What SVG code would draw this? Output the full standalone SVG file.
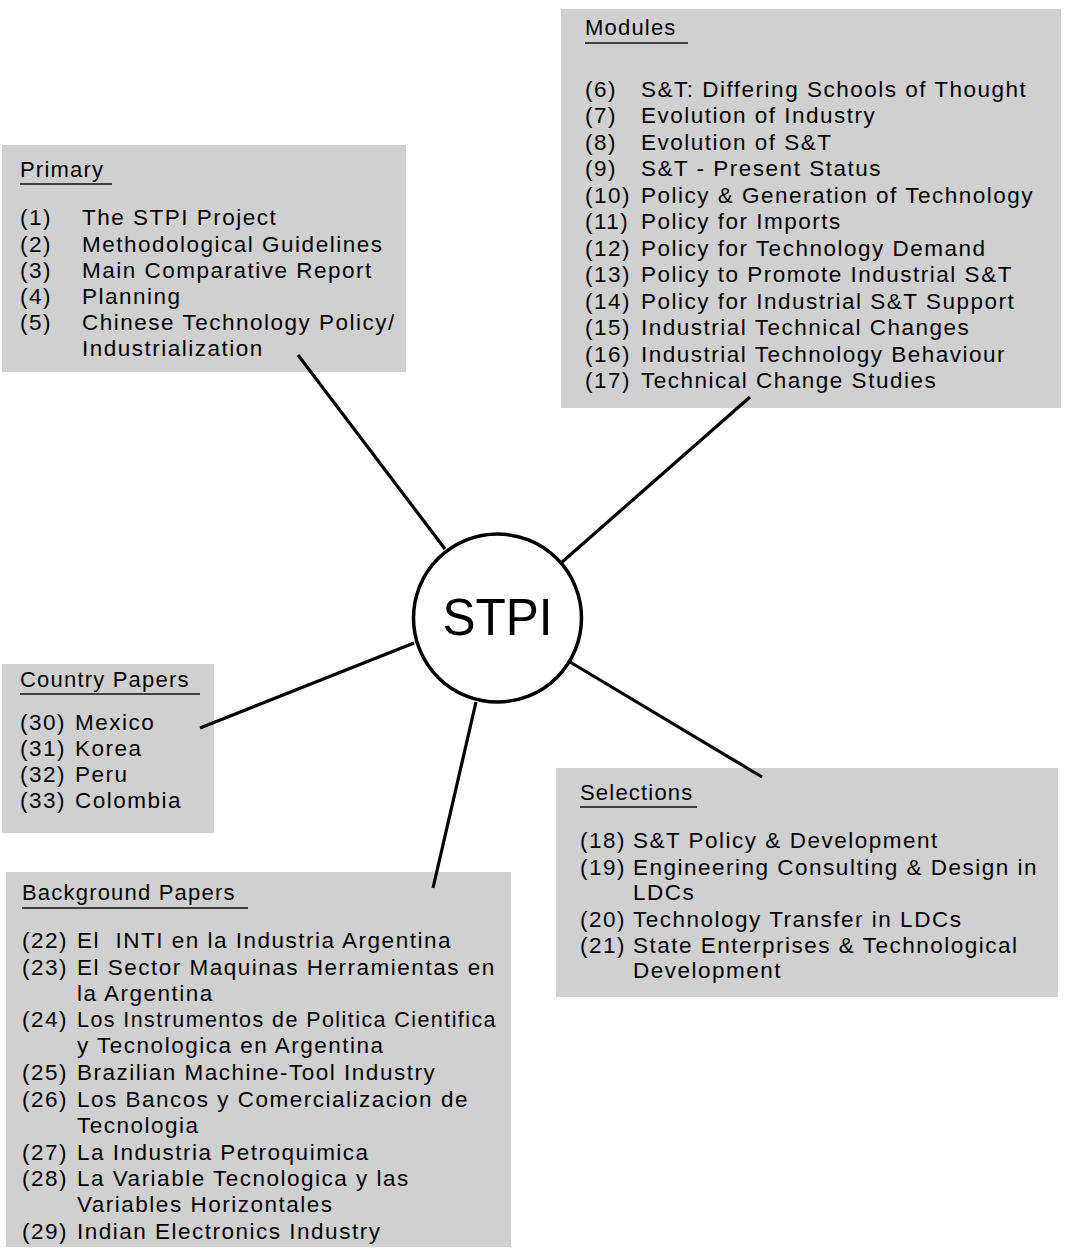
<svg xmlns="http://www.w3.org/2000/svg" width="1065" height="1253" viewBox="0 0 1065 1253">
<style>
.box{fill:#d0d0d0;stroke:none}
text{font-family:"Liberation Sans",Arial,Helvetica,sans-serif;font-size:22.5px;letter-spacing:1.5px;fill:#000}
.ttl{font-size:22px;letter-spacing:1.2px}
.ul{stroke:#111;stroke-width:1.5}
.conn{stroke:#000;stroke-width:3.2;stroke-linecap:butt;fill:none}
.hub{fill:#fff;stroke:#000;stroke-width:3.5}
.hubt{font-size:52px;letter-spacing:0;fill:#000}
</style>
<rect width="1065" height="1253" fill="#fff"/>

<g id="primary">
<rect class="box" x="2" y="145" width="404" height="227"/>
<text class="ttl" x="20" y="177">Primary</text>
<line class="ul" x1="20" y1="184" x2="112" y2="184"/>
<text x="20" y="225">(1)</text><text x="82" y="225">The STPI Project</text>
<text x="20" y="252">(2)</text><text x="82" y="252">Methodological Guidelines</text>
<text x="20" y="278">(3)</text><text x="82" y="278">Main Comparative Report</text>
<text x="20" y="304">(4)</text><text x="82" y="304">Planning</text>
<text x="20" y="330">(5)</text><text x="82" y="330">Chinese Technology Policy/</text>
<text x="82" y="356">Industrialization</text>
</g>

<g id="modules">
<rect class="box" x="561" y="9" width="500" height="399"/>
<text class="ttl" x="585" y="35">Modules</text>
<line class="ul" x1="585" y1="43" x2="688" y2="43"/>
<text x="585" y="97">(6)</text><text x="641" y="97">S&amp;T: Differing Schools of Thought</text>
<text x="585" y="123">(7)</text><text x="641" y="123">Evolution of Industry</text>
<text x="585" y="150">(8)</text><text x="641" y="150">Evolution of S&amp;T</text>
<text x="585" y="176">(9)</text><text x="641" y="176">S&amp;T - Present Status</text>
<text x="585" y="203">(10)</text><text x="641" y="203">Policy &amp; Generation of Technology</text>
<text x="585" y="229">(11)</text><text x="641" y="229">Policy for Imports</text>
<text x="585" y="256">(12)</text><text x="641" y="256">Policy for Technology Demand</text>
<text x="585" y="282">(13)</text><text x="641" y="282">Policy to Promote Industrial S&amp;T</text>
<text x="585" y="309">(14)</text><text x="641" y="309">Policy for Industrial S&amp;T Support</text>
<text x="585" y="335">(15)</text><text x="641" y="335">Industrial Technical Changes</text>
<text x="585" y="362">(16)</text><text x="641" y="362">Industrial Technology Behaviour</text>
<text x="585" y="388">(17)</text><text x="641" y="388">Technical Change Studies</text>
</g>

<g id="country">
<rect class="box" x="2" y="664" width="212" height="169"/>
<text class="ttl" x="20" y="687">Country Papers</text>
<line class="ul" x1="20" y1="694" x2="200" y2="694"/>
<text x="20" y="730">(30)</text><text x="75" y="730">Mexico</text>
<text x="20" y="756">(31)</text><text x="75" y="756">Korea</text>
<text x="20" y="782">(32)</text><text x="75" y="782">Peru</text>
<text x="20" y="808">(33)</text><text x="75" y="808">Colombia</text>
</g>

<g id="background">
<rect class="box" x="6" y="872" width="505" height="375"/>
<text class="ttl" x="22" y="900">Background Papers</text>
<line class="ul" x1="22" y1="908" x2="248" y2="908"/>
<text x="22" y="948">(22)</text><text x="77" y="948" xml:space="preserve">El  INTI en la Industria Argentina</text>
<text x="22" y="975">(23)</text><text x="77" y="975">El Sector Maquinas Herramientas en</text>
<text x="77" y="1001">la Argentina</text>
<text x="22" y="1027">(24)</text><text x="77" y="1027" textLength="420" lengthAdjust="spacingAndGlyphs">Los Instrumentos de Politica Cientifica</text>
<text x="77" y="1053">y Tecnologica en Argentina</text>
<text x="22" y="1080">(25)</text><text x="77" y="1080">Brazilian Machine-Tool Industry</text>
<text x="22" y="1107">(26)</text><text x="77" y="1107">Los Bancos y Comercializacion de</text>
<text x="77" y="1133">Tecnologia</text>
<text x="22" y="1160">(27)</text><text x="77" y="1160">La Industria Petroquimica</text>
<text x="22" y="1186">(28)</text><text x="77" y="1186">La Variable Tecnologica y las</text>
<text x="77" y="1212">Variables Horizontales</text>
<text x="22" y="1239">(29)</text><text x="77" y="1239">Indian Electronics Industry</text>
</g>

<g id="selections">
<rect class="box" x="556" y="768" width="502" height="229"/>
<text class="ttl" x="580" y="800">Selections</text>
<line class="ul" x1="580" y1="807" x2="697" y2="807"/>
<text x="580" y="848">(18)</text><text x="633" y="848">S&amp;T Policy &amp; Development</text>
<text x="580" y="875">(19)</text><text x="633" y="875">Engineering Consulting &amp; Design in</text>
<text x="633" y="900">LDCs</text>
<text x="580" y="927">(20)</text><text x="633" y="927">Technology Transfer in LDCs</text>
<text x="580" y="953">(21)</text><text x="633" y="953">State Enterprises &amp; Technological</text>
<text x="633" y="978">Development</text>
</g>

<g id="connectors">
<line class="conn" x1="298" y1="355" x2="445" y2="549"/>
<line class="conn" x1="750" y1="397" x2="561" y2="563"/>
<line class="conn" x1="200" y1="728" x2="414" y2="643"/>
<line class="conn" x1="433" y1="888" x2="476" y2="702"/>
<line class="conn" x1="570" y1="662" x2="762" y2="777"/>
</g>

<g id="stpi">
<circle class="hub" cx="497.5" cy="618" r="84"/>
<text class="hubt" x="497.5" y="635" text-anchor="middle" textLength="110" lengthAdjust="spacingAndGlyphs">STPI</text>
</g>
</svg>
